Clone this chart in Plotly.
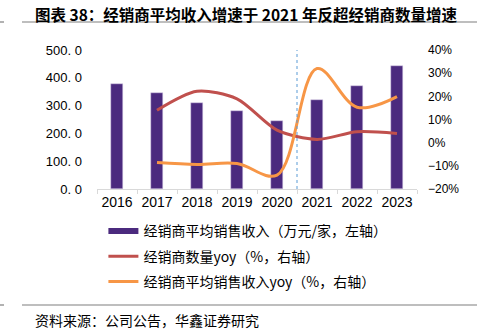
import plotly.graph_objects as go

years = ["2016", "2017", "2018", "2019", "2020", "2021", "2022", "2023"]
avg_revenue = [376, 344, 310, 280, 244, 321, 370, 443]
dealer_count_yoy = [None, 14.0, 22.2, 18.9, 5.4, 1.4, 4.7, 4.0]
avg_revenue_yoy = [None, -8.6, -9.4, -9.0, -14.0, 32.0, 15.3, 19.9]

left_ticks = [0, 100, 200, 300, 400, 500]
left_ticktext = ["0. 0", "100. 0", "200. 0", "300. 0", "400. 0", "500. 0"]
right_ticks = [-20, -10, 0, 10, 20, 30, 40]
right_ticktext = ["\u221220%", "\u221210%", "0%", "10%", "20%", "30%", "40%"]

name_bar = "经销商平均销售收入（万元/家，左轴）"
name_cnt = "经销商数量yoy（%，右轴）"
name_rev = "经销商平均销售收入yoy（%，右轴）"

PURPLE = "#4B2A7E"
RED = "#C0504D"
ORANGE = "#F79646"
CJK = "Noto Sans CJK SC"
LAT = "Liberation Sans"

fig = go.Figure()
fig.add_trace(go.Bar(x=years, y=avg_revenue, marker=dict(color=PURPLE, line=dict(color="#D9D0E8", width=0.5)),
                     width=0.31, showlegend=False, name=name_bar))
# legend proxy for bar series (wide line sample)
fig.add_trace(go.Scatter(x=[None], y=[None], mode="lines", line=dict(color=PURPLE, width=6),
                         name=name_bar, legendgroup="a"))
fig.add_trace(go.Scatter(x=years, y=dealer_count_yoy, mode="lines", yaxis="y2",
                         line=dict(color=RED, width=3, shape="spline", smoothing=0.8),
                         name=name_cnt, legendgroup="b"))
fig.add_trace(go.Scatter(x=years, y=avg_revenue_yoy, mode="lines", yaxis="y2",
                         line=dict(color=ORANGE, width=3, shape="spline", smoothing=1.0),
                         name=name_rev, legendgroup="c"))

fig.update_layout(
    width=481, height=336,
    margin=dict(l=97, r=64, t=50, b=147),
    paper_bgcolor="white", plot_bgcolor="white",
    font=dict(family=CJK, size=12, color="#000000"),
    bargap=0,
    xaxis=dict(type="category", showgrid=False, showline=True, linecolor="#D9D9D9", linewidth=1,
               ticks="outside", tickson="boundaries", ticklen=4, tickcolor="#D9D9D9", tickangle=0,
               tickfont=dict(family=LAT, size=14, color="#000000")),
    yaxis=dict(range=[0, 500], tickvals=left_ticks, ticktext=left_ticktext, showgrid=False,
               zeroline=False, showline=False, ticks="", ticklabelstandoff=14,
               tickfont=dict(family=LAT, size=13, color="#000000")),
    yaxis2=dict(range=[-20, 40], tickvals=right_ticks, ticktext=right_ticktext, overlaying="y",
                side="right", showgrid=False, zeroline=False, showline=False, ticks="",
                ticklabelstandoff=10, tickfont=dict(family=LAT, size=12, color="#000000")),
    legend=dict(x=0.02, y=-0.19, xanchor="left", yanchor="top", tracegroupgap=4,
                font=dict(family=CJK, size=14, color="#000000"), bgcolor="rgba(0,0,0,0)"),
    shapes=[
        dict(type="line", xref="x", yref="paper", x0=4.5, x1=4.5, y0=0, y1=1.0,
             line=dict(color="#5B9BD5", width=1, dash="dot")),
        dict(type="line", xref="paper", yref="paper", x0=(22-97)/320, x1=(477-97)/320,
             y0=(189-22)/139, y1=(189-22)/139, line=dict(color="#7F7F7F", width=1.2)),
        dict(type="line", xref="paper", yref="paper", x0=(0-97)/320, x1=(4-97)/320,
             y0=(189-22)/139, y1=(189-22)/139, line=dict(color="#7F7F7F", width=1.2)),
        dict(type="line", xref="paper", yref="paper", x0=(22-97)/320, x1=(477-97)/320,
             y0=(189-305)/139, y1=(189-305)/139, line=dict(color="#7F7F7F", width=1.2)),
        dict(type="line", xref="paper", yref="paper", x0=(0-97)/320, x1=(4-97)/320,
             y0=(189-305)/139, y1=(189-305)/139, line=dict(color="#7F7F7F", width=1.2)),
    ],
    annotations=[
        dict(text="<b>图表 38：经销商平均收入增速于 2021 年反超经销商数量增速</b>", xref="paper", yref="paper",
             x=(33-97)/320, y=(189-14)/139, xanchor="left", yanchor="middle", showarrow=False,
             font=dict(family=CJK, size=15.5, color="#000000")),
        dict(text="资料来源：公司公告，华鑫证券研究", xref="paper", yref="paper",
             x=(33-97)/320, y=(189-320)/139, xanchor="left", yanchor="middle", showarrow=False,
             font=dict(family=CJK, size=14, color="#000000")),
    ],
)

fig.write_html("out.html")
